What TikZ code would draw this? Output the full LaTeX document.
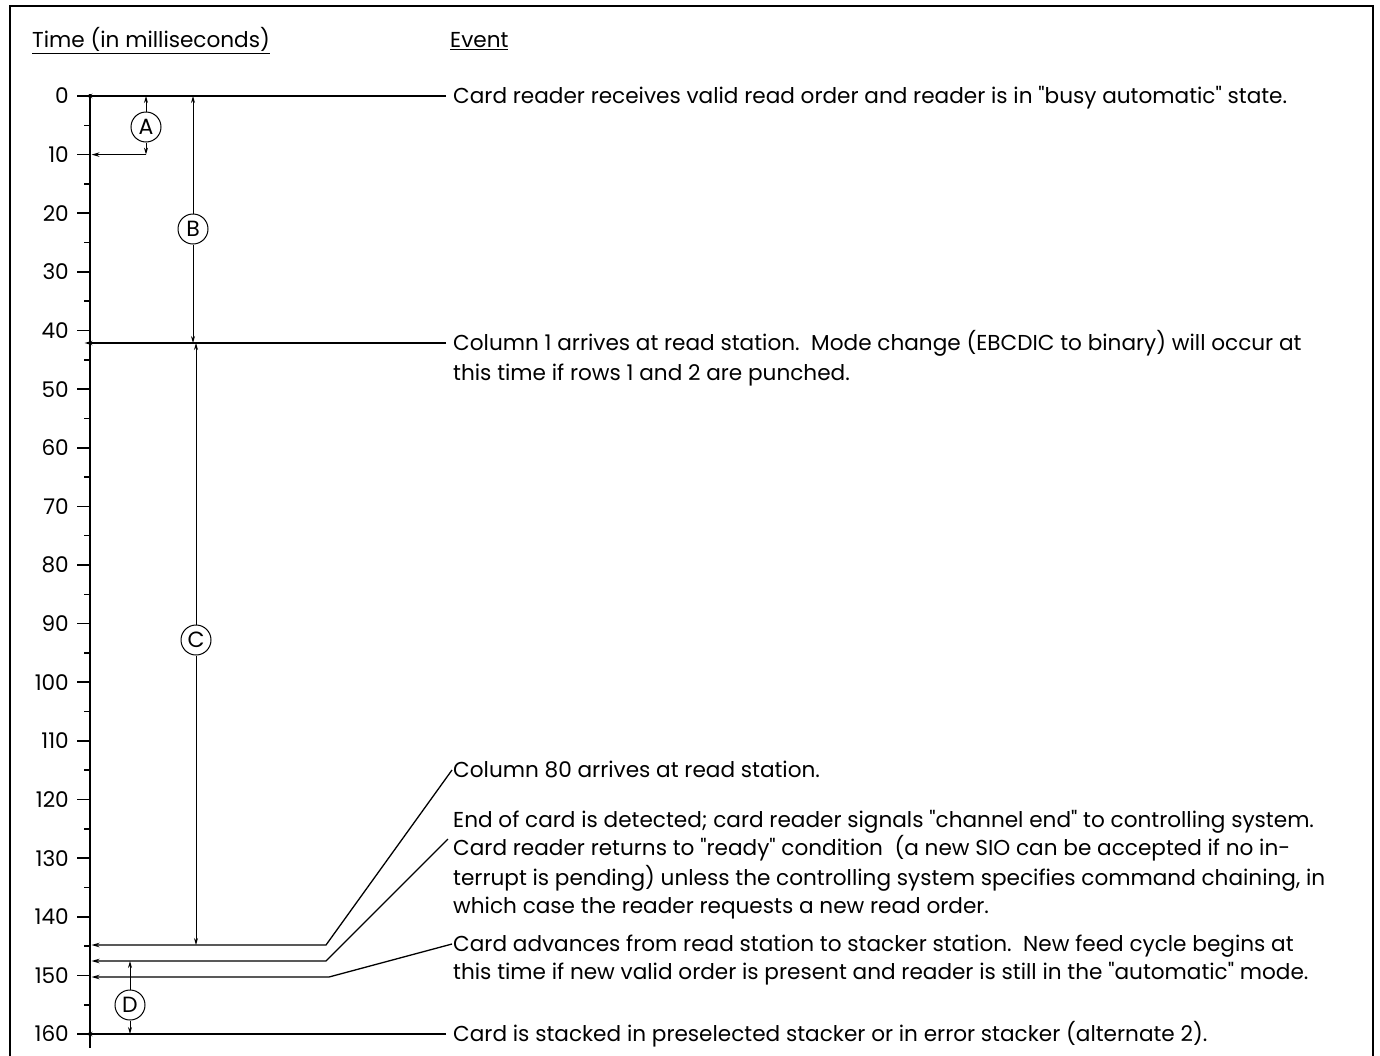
\documentclass[tikz,border=0pt]{standalone}
\usepackage{fontspec}
\newfontfamily\evfont{Poppins}
\usetikzlibrary{arrows.meta}
\tikzset{
  ev/.style={anchor=west, inner sep=0pt, text height=15pt, text depth=0pt, font=\evfont\fontsize{21.6}{26}\selectfont},
  num/.style={anchor=east, inner sep=0pt, font=\evfont\fontsize{21.6}{26}\selectfont},
  evline/.style={line width=1.3pt, -{Stealth[length=8pt,width=4.5pt]}},
  dimarr/.style={line width=0.9pt, -{Stealth[length=7pt,width=4pt]}},
  circ/.style={circle, draw, line width=1pt, minimum size=30pt, inner sep=0pt, font=\evfont\fontsize{22}{26}\selectfont},
  frame/.style={line width=2.8pt},
  axisline/.style={line width=2pt},
  tickline/.style={line width=1.6pt}
}
\begin{document}
\begin{tikzpicture}[x=1pt,y=-1pt]
\useasboundingbox (0,0) rectangle (1380,1055);
% frame
\draw[frame] (10,1056) -- (10,6) -- (1373,6) -- (1373,1056);
% headings
\node[ev] (hT) at (32,40) {\underline{Time (in milliseconds)}};
\node[ev] (hE) at (450,40) {\underline{Event}};
% axis
\coordinate (axtop) at (90,94);
\coordinate (axbot) at (90,1048);
\coordinate (ax) at (91.5,0);
\draw[axisline] (axtop) -- (axbot);
\foreach \t in {0,10,...,160}{
  \pgfmathsetmacro{\yy}{96+5.8625*\t}
  \draw[tickline] (77,\yy) -- (90,\yy);
  \node[num] (n\t) at (69,\yy) {\t};
}
\foreach \t in {5,15,...,155}{
  \pgfmathsetmacro{\yy}{96+5.8625*\t}
  \draw[tickline] (84,\yy) -- (90,\yy);
}
% event texts
\node[ev] (e0) at (453,96) {Card reader receives valid read order and reader is in "busy automatic" state.};
\node[ev] (e1) at (453,343) {Column 1 arrives at read station.\ \ Mode change (EBCDIC to binary) will occur at};
\node[ev] (e1b) at (453,373) {this time if rows 1 and 2 are punched.};
\node[ev] (e80) at (453,770) {Column 80 arrives at read station.};
\node[ev] (eend) at (453,820) {End of card is detected; card reader signals "channel end" to controlling system.};
\node[ev] (ecr) at (453,848) {Card reader returns to "ready" condition\ \ (a new SIO can be accepted if no in-};
\node[ev] (ecrb) at (453,878) {terrupt is pending) unless the controlling system specifies command chaining, in};
\node[ev] (ecrc) at (453,906) {which case the reader requests a new read order.};
\node[ev] (eadv) at (453,944) {Card advances from read station to stacker station.\ \ New feed cycle begins at};
\node[ev] (eadvb) at (453,972) {this time if new valid order is present and reader is still in the "automatic" mode.};
\node[ev] (estk) at (453,1034) {Card is stacked in preselected stacker or in error stacker (alternate 2).};
% bend points
\coordinate (k1) at (326,945);
\coordinate (k2) at (326,961);
\coordinate (k3) at (329,977);
\coordinate (t10) at (146,154.6);
% event connectors
\draw[evline] ([xshift=-7pt]e0.west) -- ([xshift=-7pt]e0.west -| ax);
\draw[evline] ([xshift=-7pt]e1.west) -- ([xshift=-7pt]e1.west -| ax);
\draw[evline] ([xshift=-7pt]estk.west) -- ([xshift=-7pt]estk.west -| ax);
\draw[evline] ([xshift=-1pt]e80.west) -- (k1) -- (k1 -| ax);
\draw[evline] ([xshift=-5pt,yshift=9pt]ecr.west) -- (k2) -- (k2 -| ax);
\draw[evline] ([xshift=-1pt]eadv.west) -- (k3) -- (k3 -| ax);
\draw[evline] (t10) -- (t10 -| ax);
% dimension circles
\node[circ] (cA) at (146,127) {A};
\node[circ] (cB) at (193,229) {B};
\node[circ] (cC) at (196,640) {C};
\node[circ] (cD) at (130,1005) {D};
\draw[dimarr] (cA.north) -- (cA |- e0.west);
\draw[dimarr] (cA.south) -- (t10);
\draw[dimarr] (cB.north) -- (cB |- e0.west);
\draw[dimarr] (cB.south) -- (cB |- e1.west);
\draw[dimarr] (cC.north) -- (cC |- e1.west);
\draw[dimarr] (cC.south) -- (cC |- k1);
\draw[dimarr] (cD.north) -- (cD |- k2);
\draw[dimarr] (cD.south) -- (cD |- estk.west);
\end{tikzpicture}
\end{document}
